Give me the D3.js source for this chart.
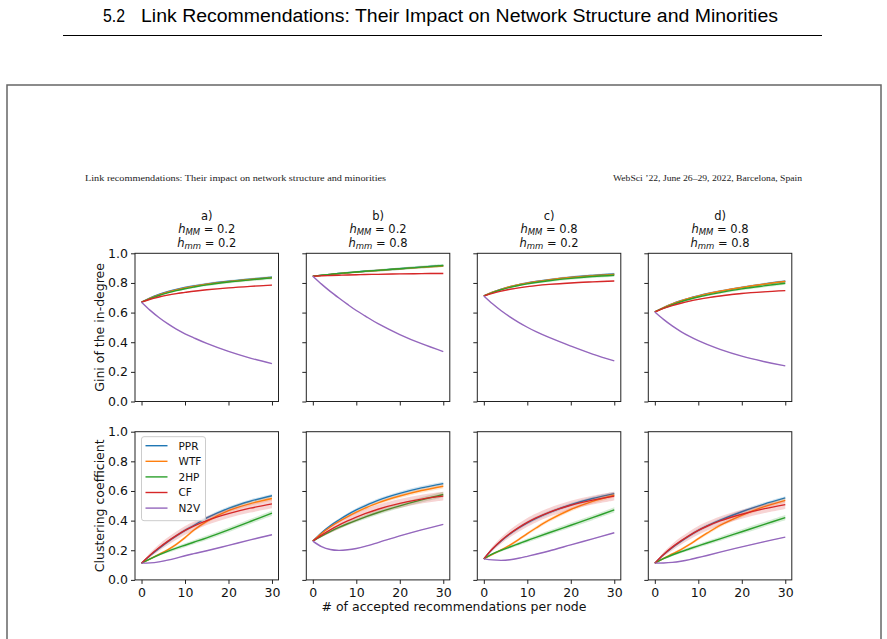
<!DOCTYPE html>
<meta charset="utf-8">
<script src="https://cdn.jsdelivr.net/npm/d3@7"></script>
<style>
  body { margin: 0; background: #fff; }
  text { font-family: "DejaVu Sans", sans-serif; }
</style>
<div id="chart"></div>
<script>

// ---- data ----
var xSteps = [0, 2, 4, 6, 8, 10, 12, 15, 20, 25, 30];
var methods = ["PPR", "WTF", "2HP", "CF", "N2V"];
var colors = ["#1f77b4", "#ff7f0e", "#2ca02c", "#d62728", "#9467bd"];
var panelNames = ["a)", "b)", "c)", "d)"];
var hMM = ["0.2", "0.2", "0.8", "0.8"];
var hmm = ["0.2", "0.8", "0.2", "0.8"];
var yTicks = [0, 0.2, 0.4, 0.6, 0.8, 1.0];
var xTicks = [0, 10, 20, 30];

// Gini of the in-degree
var giniA = {
  PPR: [0.67, 0.699, 0.722, 0.741, 0.756, 0.769, 0.78, 0.794, 0.812, 0.826, 0.838],
  WTF: [0.67, 0.697, 0.72, 0.738, 0.753, 0.766, 0.777, 0.791, 0.809, 0.823, 0.836],
  "2HP": [0.67, 0.694, 0.715, 0.733, 0.748, 0.761, 0.772, 0.787, 0.806, 0.821, 0.834],
  CF: [0.67, 0.69, 0.705, 0.718, 0.728, 0.736, 0.744, 0.754, 0.767, 0.777, 0.785],
  N2V: [0.67, 0.615, 0.567, 0.525, 0.488, 0.457, 0.43, 0.392, 0.338, 0.293, 0.256]
};
var giniB = {
  PPR: [0.845, 0.852, 0.858, 0.864, 0.869, 0.874, 0.879, 0.885, 0.896, 0.907, 0.917],
  WTF: [0.845, 0.851, 0.857, 0.863, 0.868, 0.873, 0.878, 0.884, 0.895, 0.905, 0.914],
  "2HP": [0.845, 0.852, 0.858, 0.864, 0.869, 0.874, 0.879, 0.885, 0.896, 0.907, 0.918],
  CF: [0.845, 0.848, 0.85, 0.852, 0.854, 0.855, 0.857, 0.858, 0.861, 0.863, 0.864],
  N2V: [0.845, 0.792, 0.743, 0.698, 0.655, 0.614, 0.578, 0.525, 0.452, 0.39, 0.337]
};
var giniC = {
  PPR: [0.712, 0.738, 0.758, 0.775, 0.789, 0.8, 0.81, 0.822, 0.839, 0.851, 0.861],
  WTF: [0.712, 0.737, 0.757, 0.774, 0.788, 0.799, 0.809, 0.821, 0.837, 0.849, 0.858],
  "2HP": [0.712, 0.735, 0.754, 0.77, 0.783, 0.794, 0.803, 0.815, 0.831, 0.843, 0.852],
  CF: [0.712, 0.73, 0.745, 0.757, 0.767, 0.775, 0.782, 0.79, 0.8, 0.807, 0.813],
  N2V: [0.712, 0.659, 0.612, 0.571, 0.534, 0.501, 0.471, 0.432, 0.374, 0.32, 0.274]
};
var giniD = {
  PPR: [0.604, 0.634, 0.659, 0.68, 0.698, 0.713, 0.727, 0.745, 0.77, 0.792, 0.811],
  WTF: [0.604, 0.633, 0.658, 0.679, 0.697, 0.712, 0.726, 0.744, 0.769, 0.791, 0.81],
  "2HP": [0.604, 0.63, 0.653, 0.673, 0.69, 0.705, 0.718, 0.735, 0.76, 0.78, 0.798],
  CF: [0.604, 0.628, 0.647, 0.663, 0.677, 0.689, 0.699, 0.712, 0.729, 0.74, 0.748],
  N2V: [0.604, 0.554, 0.51, 0.472, 0.439, 0.41, 0.385, 0.352, 0.306, 0.27, 0.24]
};

// Clustering coefficient
var clustA = {
  PPR: [0.113, 0.165, 0.212, 0.257, 0.297, 0.334, 0.367, 0.418, 0.483, 0.531, 0.568],
  WTF: [0.113, 0.142, 0.172, 0.203, 0.24, 0.285, 0.335, 0.395, 0.468, 0.515, 0.549],
  "2HP": [0.113, 0.142, 0.169, 0.193, 0.214, 0.234, 0.254, 0.284, 0.338, 0.394, 0.451],
  CF: [0.113, 0.168, 0.217, 0.26, 0.299, 0.334, 0.363, 0.4, 0.447, 0.484, 0.513],
  N2V: [0.113, 0.115, 0.122, 0.133, 0.147, 0.163, 0.177, 0.197, 0.233, 0.27, 0.305]
};
var clustB = {
  PPR: [0.262, 0.318, 0.365, 0.404, 0.44, 0.472, 0.5, 0.537, 0.584, 0.621, 0.65],
  WTF: [0.262, 0.313, 0.357, 0.394, 0.427, 0.457, 0.484, 0.52, 0.566, 0.603, 0.632],
  "2HP": [0.262, 0.296, 0.326, 0.354, 0.379, 0.402, 0.424, 0.455, 0.5, 0.54, 0.576],
  CF: [0.262, 0.302, 0.338, 0.37, 0.398, 0.424, 0.447, 0.477, 0.516, 0.545, 0.565],
  N2V: [0.262, 0.225, 0.205, 0.199, 0.203, 0.212, 0.226, 0.252, 0.297, 0.338, 0.375]
};
var clustC = {
  PPR: [0.142, 0.208, 0.263, 0.31, 0.35, 0.385, 0.415, 0.454, 0.507, 0.549, 0.582],
  WTF: [0.142, 0.172, 0.202, 0.235, 0.272, 0.312, 0.35, 0.403, 0.475, 0.53, 0.571],
  "2HP": [0.142, 0.175, 0.2, 0.222, 0.244, 0.266, 0.287, 0.318, 0.369, 0.42, 0.472],
  CF: [0.142, 0.21, 0.266, 0.313, 0.353, 0.388, 0.418, 0.456, 0.504, 0.538, 0.565],
  N2V: [0.142, 0.135, 0.132, 0.136, 0.146, 0.159, 0.173, 0.195, 0.236, 0.277, 0.318]
};
var clustD = {
  PPR: [0.113, 0.17, 0.218, 0.26, 0.299, 0.334, 0.364, 0.403, 0.46, 0.51, 0.553],
  WTF: [0.113, 0.145, 0.175, 0.205, 0.24, 0.278, 0.315, 0.368, 0.436, 0.493, 0.537],
  "2HP": [0.113, 0.143, 0.168, 0.19, 0.21, 0.23, 0.249, 0.277, 0.325, 0.373, 0.42],
  CF: [0.113, 0.172, 0.221, 0.263, 0.301, 0.334, 0.362, 0.398, 0.443, 0.479, 0.508],
  N2V: [0.113, 0.114, 0.118, 0.126, 0.137, 0.151, 0.165, 0.187, 0.223, 0.257, 0.289]
};

// half-width of the shaded confidence bands
var ciGini = {
  PPR: [0, 0.004, 0.005, 0.006, 0.006, 0.007, 0.007, 0.007, 0.008, 0.008, 0.008],
  WTF: [0, 0.003, 0.004, 0.005, 0.005, 0.005, 0.006, 0.006, 0.006, 0.006, 0.006],
  "2HP": [0, 0.003, 0.004, 0.005, 0.006, 0.006, 0.007, 0.008, 0.009, 0.01, 0.01],
  CF: [0, 0.003, 0.003, 0.004, 0.004, 0.004, 0.004, 0.004, 0.004, 0.004, 0.004],
  N2V: [0, 0.002, 0.002, 0.002, 0.002, 0.002, 0.002, 0.002, 0.002, 0.002, 0.002]
};
var ciClust = {
  PPR: [0, 0.006, 0.008, 0.01, 0.011, 0.012, 0.012, 0.012, 0.012, 0.012, 0.012],
  WTF: [0, 0.005, 0.007, 0.008, 0.009, 0.01, 0.012, 0.013, 0.014, 0.015, 0.015],
  "2HP": [0, 0.006, 0.008, 0.01, 0.012, 0.013, 0.014, 0.015, 0.016, 0.017, 0.018],
  CF: [0, 0.015, 0.022, 0.026, 0.028, 0.03, 0.03, 0.03, 0.03, 0.03, 0.03],
  N2V: [0, 0.002, 0.003, 0.003, 0.003, 0.003, 0.003, 0.003, 0.003, 0.003, 0.003]
};

var giniPanels = [giniA, giniB, giniC, giniD];
var clustPanels = [clustA, clustB, clustC, clustD];

// ---- layout ----
var W = 887, H = 639;
var svg = d3.select("#chart").append("svg")
  .attr("width", W).attr("height", H);

// page header
var headFont = "'Liberation Sans Narrow', 'Liberation Sans', Arial, sans-serif";
svg.append("text").attr("x", 103).attr("y", 21.5)
  .style("font-family", headFont).style("font-size", "18px")
  .attr("textLength", 22).attr("lengthAdjust", "spacingAndGlyphs").text("5.2");
svg.append("text").attr("x", 141).attr("y", 21.5)
  .style("font-family", headFont).style("font-size", "18px")
  .attr("textLength", 637).attr("lengthAdjust", "spacingAndGlyphs")
  .text("Link Recommendations: Their Impact on Network Structure and Minorities");
svg.append("line").attr("x1", 63).attr("x2", 822).attr("y1", 35.5).attr("y2", 35.5)
  .attr("stroke", "#000").attr("stroke-width", 1);

// frame around the embedded figure
svg.append("rect").attr("x", 7).attr("y", 85).attr("width", 874).attr("height", 700)
  .attr("fill", "none").attr("stroke", "#666").attr("stroke-width", 1.5);

// small running header of the embedded page
svg.append("text").attr("x", 85).attr("y", 180.5)
  .style("font-family", "'Liberation Serif', serif").style("font-size", "8.5px")
  .attr("textLength", 301).attr("lengthAdjust", "spacingAndGlyphs").attr("fill", "#222")
  .text("Link recommendations: Their impact on network structure and minorities");
svg.append("text").attr("x", 613).attr("y", 180.5)
  .style("font-family", "'Liberation Serif', serif").style("font-size", "8.5px")
  .attr("textLength", 189).attr("lengthAdjust", "spacingAndGlyphs").attr("fill", "#222")
  .text("WebSci \u201922, June 26\u201329, 2022, Barcelona, Spain");

var lefts = [135, 306.3, 477.3, 648.3];
var pw = 143.5;
var tops = [253.3, 431.7];
var ph = 148.2;
var fs = "12.5px";

var x = d3.scaleLinear().domain([-1.5, 31.5]);
var y = d3.scaleLinear().domain([0, 1]);

function drawPanel(col, row, data, ci) {
  var g = svg.append("g")
    .attr("transform", "translate(" + lefts[col] + "," + tops[row] + ")");
  x.range([0, pw]);
  y.range([ph, 0]);

  var line = d3.line()
    .x(function(d, i) { return x(xSteps[i]); })
    .y(function(d) { return y(d); })
    .curve(d3.curveCatmullRom.alpha(0.5));
  var area = d3.area()
    .x(function(d, i) { return x(xSteps[i]); })
    .y0(function(d) { return y(d[0]); })
    .y1(function(d) { return y(d[1]); })
    .curve(d3.curveCatmullRom.alpha(0.5));

  methods.forEach(function(m, k) {
    var vals = data[m];
    var band = vals.map(function(v, i) { return [v - ci[m][i], v + ci[m][i]]; });
    g.append("path").datum(band)
      .attr("d", area)
      .attr("fill", colors[k]).attr("fill-opacity", 0.2);
    g.append("path").datum(vals)
      .attr("d", line)
      .attr("fill", "none").attr("stroke", colors[k]).attr("stroke-width", 1.4);
  });

  // axes
  var ya = d3.axisLeft(y).tickValues(yTicks).tickSize(4).tickPadding(3)
    .tickFormat(col === 0 ? d3.format(".1f") : function() { return ""; });
  var yg = g.append("g").call(ya);
  var xa = d3.axisBottom(x).tickValues(xTicks).tickSize(4).tickPadding(4.5)
    .tickFormat(row === 1 ? d3.format("d") : function() { return ""; });
  var xg = g.append("g").attr("transform", "translate(0," + ph + ")").call(xa);
  [yg, xg].forEach(function(a) {
    a.select(".domain").remove();
    a.selectAll("line").attr("stroke", "#222").attr("stroke-width", 1);
    a.selectAll("text").style("font-family", "'DejaVu Sans', sans-serif")
      .style("font-size", fs).attr("fill", "#111");
  });

  g.append("rect").attr("width", pw).attr("height", ph)
    .attr("fill", "none").attr("stroke", "#222").attr("stroke-width", 1);
  return g;
}

for (var c = 0; c < 4; c++) {
  drawPanel(c, 0, giniPanels[c], ciGini);
  drawPanel(c, 1, clustPanels[c], ciClust);

  // column titles
  var cx = lefts[c] + pw / 2;
  var t = svg.append("g").style("font-size", "11.5px").attr("fill", "#111");
  t.append("text").attr("x", cx).attr("y", 220).attr("text-anchor", "middle").text(panelNames[c]);
  var t1 = t.append("text").attr("x", cx).attr("y", 233.3).attr("text-anchor", "middle");
  t1.append("tspan").style("font-style", "italic").text("h");
  t1.append("tspan").style("font-style", "italic").style("font-size", "8.5px").attr("dy", 2).text("MM");
  t1.append("tspan").attr("dy", -2).text(" = " + hMM[c]);
  var t2 = t.append("text").attr("x", cx).attr("y", 246.8).attr("text-anchor", "middle");
  t2.append("tspan").style("font-style", "italic").text("h");
  t2.append("tspan").style("font-style", "italic").style("font-size", "8.5px").attr("dy", 2).text("mm");
  t2.append("tspan").attr("dy", -2).text(" = " + hmm[c]);
}

// axis labels
svg.append("text").attr("transform", "translate(103.5," + (tops[0] + ph / 2) + ") rotate(-90)")
  .attr("text-anchor", "middle").style("font-size", fs).attr("fill", "#111")
  .text("Gini of the in-degree");
svg.append("text").attr("transform", "translate(103.5," + (tops[1] + ph / 2) + ") rotate(-90)")
  .attr("text-anchor", "middle").style("font-size", fs).attr("fill", "#111")
  .text("Clustering coefficient");
svg.append("text").attr("x", 454).attr("y", 611).attr("text-anchor", "middle")
  .style("font-size", fs).attr("fill", "#111")
  .text("# of accepted recommendations per node");

// legend in the bottom-left panel
var lg = svg.append("g").attr("transform", "translate(" + (lefts[0] + 6.5) + "," + (tops[1] + 5) + ")");
lg.append("rect").attr("width", 64).attr("height", 84).attr("rx", 2.5)
  .attr("fill", "#fff").attr("fill-opacity", 0.8).attr("stroke", "#ccc").attr("stroke-width", 1);
methods.forEach(function(m, k) {
  var yy = 9 + k * 15.6;
  lg.append("line").attr("x1", 4).attr("x2", 26).attr("y1", yy).attr("y2", yy)
    .attr("stroke", colors[k]).attr("stroke-width", 1.4);
  lg.append("text").attr("x", 37).attr("y", yy + 4)
    .style("font-size", "10.5px").attr("fill", "#111").text(m);
});

</script>
